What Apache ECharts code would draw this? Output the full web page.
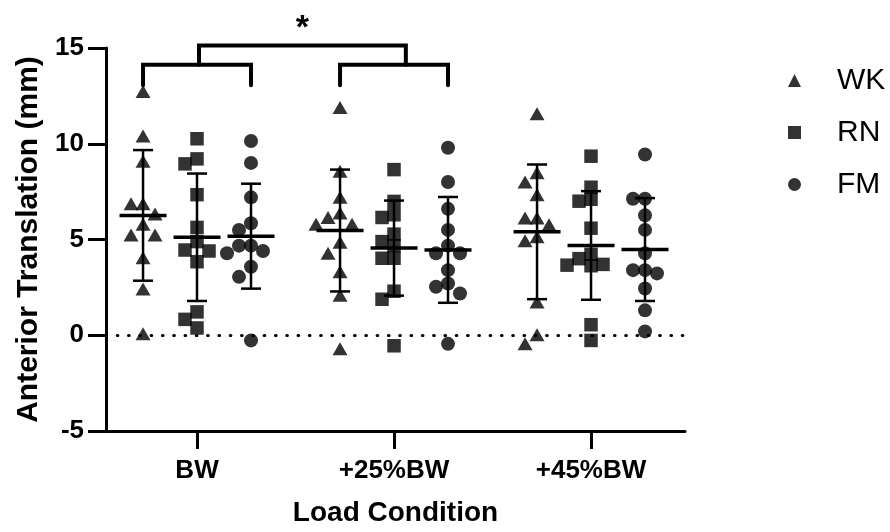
<!DOCTYPE html>
<html><head><meta charset="utf-8">
<script src="https://cdn.jsdelivr.net/npm/echarts@6/dist/echarts.min.js"></script>
<style>html,body{margin:0;padding:0;background:#fff}#c{width:890px;height:532px}</style>
</head><body><div id="c"></div>
<script>
// ---------- data ----------
const categories = ['BW', '+25%BW', '+45%BW'];
const seriesNames = ['WK', 'RN', 'FM'];
const wkValues = [
  [12.73, 10.40, 9.09, 6.87, 6.87, 6.33, 5.80, 5.24, 5.24, 4.05, 2.41, 0.08],
  [11.89, 8.57, 7.20, 6.38, 6.15, 5.80, 5.80, 4.86, 4.28, 3.32, 2.09, -0.71],
  [11.57, 8.48, 8.00, 7.34, 6.12, 6.12, 5.77, 5.15, 4.93, 1.74, 0.03, -0.45]
];
const rnValues = [
  [10.26, 9.21, 8.95, 7.34, 5.63, 4.89, 4.45, 4.40, 3.84, 1.22, 0.83, 0.38],
  [8.65, 6.99, 6.29, 6.15, 5.28, 4.89, 4.68, 4.02, 4.02, 2.30, 1.88, -0.55],
  [9.35, 7.73, 7.10, 7.00, 5.59, 4.23, 4.00, 3.70, 3.66, 3.63, 0.55, -0.27]
];
const fmValues = [
  [10.14, 9.00, 7.20, 5.85, 5.50, 4.68, 4.68, 4.40, 4.28, 3.58, 3.05, -0.27],
  [9.79, 8.00, 6.60, 5.50, 4.68, 4.28, 4.28, 3.40, 2.70, 2.53, 2.18, -0.45],
  [9.44, 7.13, 7.13, 6.26, 5.50, 4.28, 3.40, 3.40, 3.23, 2.44, 1.30, 0.20]
];
const yTicks = [-5, 0, 5, 10, 15];
const sigLabel = '*';

// ---------- layout ----------
const FONT = 'Liberation Sans';
const grid = { left: 106, right: 205, top: 48, bottom: 100 };
const xMin = 0.538, xMax = 3.477;
const yMin = -5, yMax = 15;
const gridW = 890 - grid.left - grid.right;
const gridH = 532 - grid.top - grid.bottom;
const pxPerX = gridW / (xMax - xMin);
const pxPerY = gridH / (yMax - yMin);
const colOffset = 0.274;           // WK / RN / FM offsets inside a group
const symbols = ['triangle', 'rect', 'circle'];
const symbolSizes = [[15, 13], 13.5, 14];
const allValues = [wkValues, rnValues, fmValues];

function colX(g, s) { return (g + 1) + (s - 1) * colOffset; }

// simple beeswarm: spread overlapping points sideways
function swarm(values, cx) {
  const step = 12;            // px
  const placed = [];
  const order = values.map((v, i) => i).sort((a, b) => values[b] - values[a]);
  const cand = [0, -1, 1, -2, 2, -3, 3];
  const out = new Array(values.length);
  order.forEach(i => {
    const v = values[i];
    for (const k of cand) {
      const ok = placed.every(p => !(Math.abs(p.k - k) * step < step - 0.5 && Math.abs(p.v - v) * pxPerY < 11.5));
      if (ok) { placed.push({ k, v }); out[i] = [cx + k * step / pxPerX, v]; break; }
    }
  });
  return out;
}
function meanSd(a) {
  const m = a.reduce((s, v) => s + v, 0) / a.length;
  const sd = Math.sqrt(a.reduce((s, v) => s + (v - m) * (v - m), 0) / (a.length - 1));
  return [m, sd];
}

const series = [];
const errData = [];
seriesNames.forEach((name, s) => {
  const pts = [];
  categories.forEach((c, g) => {
    const vals = allValues[s][g];
    pts.push(...swarm(vals, colX(g, s)));
    const [m, sd] = meanSd(vals);
    errData.push([colX(g, s), m, sd]);
  });
  series.push({
    name, type: 'scatter', data: pts, symbol: symbols[s], symbolSize: symbolSizes[s],
    itemStyle: { color: '#000' }, z: 3, silent: true,
    markLine: s === 0 ? {
      silent: true, symbol: 'none', label: { show: false },
      lineStyle: { color: '#000', width: 3.2, type: [0.5, 10.8], cap: 'round' },
      data: [{ yAxis: 0 }]
    } : undefined
  });
});

series.push({
  type: 'custom', data: errData, z: 4, silent: true,
  renderItem(params, api) {
    const x = api.value(0), m = api.value(1), sd = api.value(2);
    const c = api.coord([x, m]), t = api.coord([x, m + sd]), b = api.coord([x, m - sd]);
    const st = { stroke: '#000', lineWidth: 2.5 };
    return { type: 'group', children: [
      { type: 'line', shape: { x1: c[0], y1: t[1], x2: c[0], y2: b[1] }, style: st },
      { type: 'line', shape: { x1: c[0] - 10, y1: t[1], x2: c[0] + 10, y2: t[1] }, style: st },
      { type: 'line', shape: { x1: c[0] - 10, y1: b[1], x2: c[0] + 10, y2: b[1] }, style: st },
      { type: 'line', shape: { x1: c[0] - 23.5, y1: c[1], x2: c[0] + 23.5, y2: c[1] }, style: { stroke: '#000', lineWidth: 3.5 } }
    ] };
  }
});

// significance bracket between BW and +25%BW
const bracketLevels = [13.05, 14.12, 15.13, 16.0];
series.push({
  type: 'custom', clip: false, silent: true, z: 5,
  data: [[colX(0, 0), colX(0, 2), colX(0, 1) + 0.01, colX(1, 0), colX(1, 2), colX(1, 1) + 0.06]],
  renderItem(params, api) {
    const P = (x, y) => api.coord([x, y]);
    const [lo, mid, top, star] = bracketLevels;
    const a1 = api.value(0), a2 = api.value(1), am = api.value(2);
    const b1 = api.value(3), b2 = api.value(4), bm = api.value(5);
    const st = { stroke: '#000', lineWidth: 4, fill: null, lineJoin: 'miter', lineCap: 'round' };
    const starP = P((am + bm) / 2, star);
    return { type: 'group', children: [
      { type: 'polyline', shape: { points: [P(a1, lo), P(a1, mid), P(a2, mid), P(a2, lo)] }, style: st },
      { type: 'polyline', shape: { points: [P(b1, lo), P(b1, mid), P(b2, mid), P(b2, lo)] }, style: st },
      { type: 'polyline', shape: { points: [P(am, mid), P(am, top), P(bm, top), P(bm, mid)] }, style: st },
      { type: 'text', style: { text: sigLabel, x: starP[0], y: starP[1], align: 'center', verticalAlign: 'middle',
        font: 'bold 34px "Liberation Sans"', fill: '#000' } }
    ] };
  }
});

const chart = echarts.init(document.getElementById('c'), null, { renderer: 'canvas' });
chart.setOption({
  animation: false,
  backgroundColor: '#fff',
  textStyle: { fontFamily: FONT, color: '#000' },
  grid,
  legend: {
    orient: 'vertical', left: 783, top: 60, itemWidth: 13, itemHeight: 13, itemGap: 21,
    data: seriesNames.map((n, i) => ({ name: n, icon: symbols[i] })),
    textStyle: { fontSize: 30, color: '#000', fontFamily: FONT, padding: [0, 0, 0, 31], lineHeight: 31 },
    selectedMode: false
  },
  xAxis: {
    type: 'value', min: xMin, max: xMax,
    axisLine: { onZero: false, lineStyle: { color: '#000', width: 3 } },
    axisTick: { show: true, customValues: [1, 2, 3], length: 18, lineStyle: { color: '#000', width: 3 } },
    axisLabel: { customValues: [1, 2, 3], formatter: v => categories[Math.round(v) - 1] || '',
      fontSize: 26, fontWeight: 'bold', color: '#000', margin: 27 },
    splitLine: { show: false },
    name: 'Load Condition', nameLocation: 'middle', nameGap: 68,
    nameTextStyle: { fontSize: 28, fontWeight: 'bold', color: '#000' }
  },
  yAxis: {
    type: 'value', min: yMin, max: yMax, interval: 5,
    axisLine: { show: true, onZero: false, lineStyle: { color: '#000', width: 3 } },
    axisTick: { show: true, length: 18, lineStyle: { color: '#000', width: 3 } },
    axisLabel: { fontSize: 26, fontWeight: 'bold', color: '#000', margin: 22,
      formatter: v => yTicks.includes(v) ? String(v) : '' },
    splitLine: { show: false },
    name: 'Anterior Translation (mm)', nameLocation: 'middle', nameGap: 62,
    nameTextStyle: { fontSize: 30, fontWeight: 'bold', color: '#000' }
  },
  series
});
</script></body></html>
